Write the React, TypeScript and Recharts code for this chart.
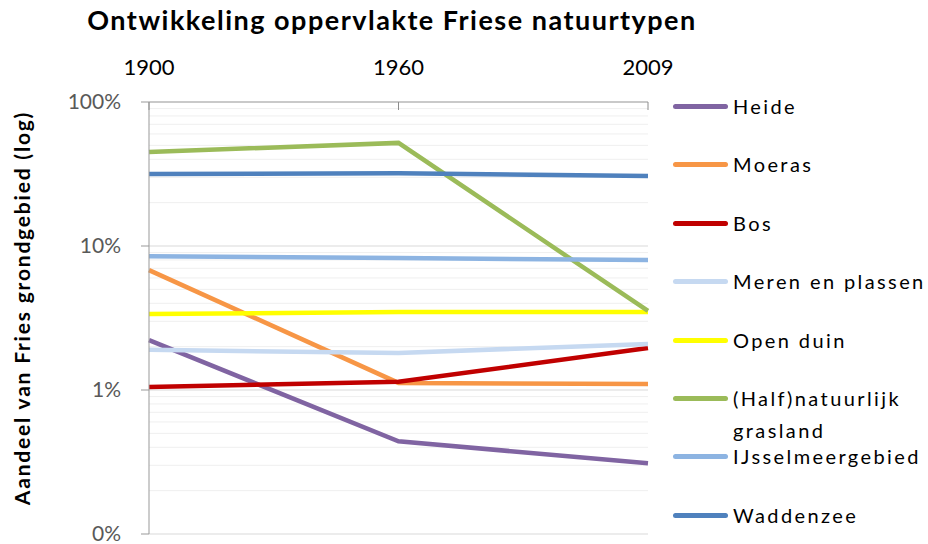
import { LineChart, Line, XAxis, YAxis, CartesianGrid, ReferenceLine } from "recharts";

// jaartallen (categorie-as bovenaan)
const years = ["1900", "1960", "2009"];

// aandeel van Fries grondgebied, in procenten (log-as)
const heide = [2.22, 0.44, 0.31];
const moeras = [6.8, 1.12, 1.1];
const bos = [1.05, 1.14, 1.96];
const merenEnPlassen = [1.9, 1.81, 2.09];
const openDuin = [3.37, 3.48, 3.48];
const grasland = [45, 52, 3.54];
const ijsselmeer = [8.5, 8.25, 8.0];
const waddenzee = [31.6, 32, 30.6];

const yTicks = [0.1, 1, 10, 100];
const yTickLabels = ["0%", "1%", "10%", "100%"];
const minorGrid = [0.2, 0.3, 0.4, 0.5, 0.6, 0.7, 0.8, 0.9, 2, 3, 4, 5, 6, 7, 8, 9, 20, 30, 40, 50, 60, 70, 80, 90];

const series = [
  { key: "heide", name: "Heide", color: "#8064A2", values: heide },
  { key: "moeras", name: "Moeras", color: "#F79646", values: moeras },
  { key: "bos", name: "Bos", color: "#C00000", values: bos },
  { key: "meren", name: "Meren en plassen", color: "#C6D9F1", values: merenEnPlassen },
  { key: "duin", name: "Open duin", color: "#FFFF00", values: openDuin },
  { key: "gras", name: "(Half)natuurlijk grasland", color: "#9BBB59", values: grasland },
  { key: "ijssel", name: "IJsselmeergebied", color: "#8DB4E2", values: ijsselmeer },
  { key: "wadden", name: "Waddenzee", color: "#4F81BD", values: waddenzee },
];

const data = years.map((year, i) => {
  const row: Record<string, string | number> = { year };
  series.forEach((s) => (row[s.key] = s.values[i]));
  return row;
});

export default function App() {
  return (
    <div
      style={{
        position: "absolute",
        left: 0,
        top: 0,
        width: 928,
        height: 544,
        background: "#fff",
        fontFamily: "Lato, sans-serif",
        overflow: "hidden",
      }}
    >
      <div
        style={{
          position: "absolute",
          left: 0,
          top: 2,
          width: 784,
          textAlign: "center",
          fontSize: 27,
          fontWeight: 700,
          letterSpacing: 1.5,
          lineHeight: "36px",
          color: "#000",
        }}
      >
        Ontwikkeling oppervlakte Friese natuurtypen
      </div>
      <div
        style={{
          position: "absolute",
          left: 21,
          top: 308,
          transform: "translate(-50%, -50%) rotate(-90deg)",
          whiteSpace: "nowrap",
          fontSize: 21,
          fontWeight: 700,
          letterSpacing: 1.8,
          color: "#000",
        }}
      >
        Aandeel van Fries grondgebied (log)
      </div>
      <LineChart width={928} height={544} data={data} margin={{ top: 62, right: 280, bottom: 10, left: 0 }}>
        <CartesianGrid vertical={false} stroke="#d9d9d9" />
        {minorGrid.map((v) => (
          <ReferenceLine key={v} y={v} stroke="#efefef" strokeWidth={1} />
        ))}
        <XAxis
          dataKey="year"
          orientation="top"
          height={40}
          interval={0}
          axisLine={{ stroke: "#a6a6a6" }}
          tickLine={{ stroke: "#8c8c8c" }}
          tickSize={-8}
          tickMargin={35}
          tick={{ fill: "#000", fontSize: 22 }}
        />
        <YAxis
          type="number"
          scale="log"
          domain={[0.1, 100]}
          ticks={yTicks}
          interval={0}
          allowDataOverflow
          width={149}
          axisLine={{ stroke: "#999" }}
          tickLine={{ stroke: "#999" }}
          tickSize={8}
          tickMargin={20}
          tick={{ fill: "#595959", fontSize: 21 }}
          tickFormatter={(v: number) => yTickLabels[yTicks.indexOf(v)] ?? `${v}%`}
        />
        {series.map((s) => (
          <Line
            key={s.key}
            dataKey={s.key}
            name={s.name}
            stroke={s.color}
            strokeWidth={4.5}
            dot={false}
            type="linear"
            isAnimationActive={false}
          />
        ))}
      </LineChart>
      <div style={{ position: "absolute", left: 673, top: 90, width: 255 }}>
        {series.map((s) => (
          <div key={s.key} style={{ display: "flex", alignItems: "flex-start", height: 58.4 }}>
            <div
              style={{
                width: 55,
                height: 5,
                marginTop: 14,
                borderRadius: 3,
                background: s.color,
                flexShrink: 0,
              }}
            />
            <div
              style={{
                marginLeft: 5,
                width: 200,
                fontSize: 20,
                lineHeight: "32px",
                letterSpacing: 2.4,
                color: "#000",
              }}
            >
              {s.name}
            </div>
          </div>
        ))}
      </div>
    </div>
  );
}
